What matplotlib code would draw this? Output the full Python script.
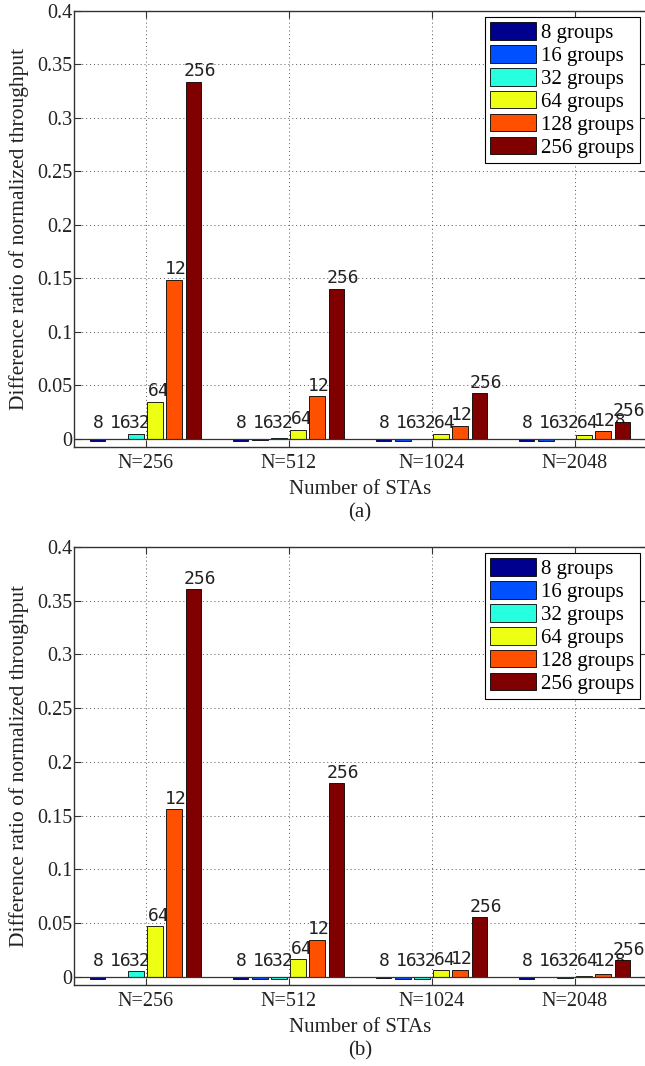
import matplotlib
matplotlib.use("Agg")
import matplotlib.pyplot as plt
from matplotlib.ticker import FixedLocator, FuncFormatter
import numpy as np

# ---- data ----
GROUPS = ["N=256", "N=512", "N=1024", "N=2048"]
SERIES = ["8 groups", "16 groups", "32 groups", "64 groups", "128 groups", "256 groups"]
TAGS = ["8", "16", "32", "64", "128", "256"]

# panel (a)
A_8 = [-0.0015, -0.0015, -0.0015, -0.0018]
A_16 = [-0.0003, -0.0005, -0.0015, -0.0018]
A_32 = [0.0050, 0.0005, 0.0003, 0.0002]
A_64 = [0.0350, 0.0084, 0.0044, 0.0035]
A_128 = [0.1490, 0.0400, 0.0125, 0.0072]
A_256 = [0.3340, 0.1406, 0.0427, 0.0162]

# panel (b)
B_8 = [-0.0015, -0.0020, -0.0010, -0.0015]
B_16 = [-0.0003, -0.0022, -0.0015, 0.0]
B_32 = [0.0053, -0.0020, -0.0022, -0.0008]
B_64 = [0.0473, 0.0165, 0.0062, 0.0010]
B_128 = [0.1560, 0.0348, 0.0068, 0.0025]
B_256 = [0.3607, 0.1800, 0.0553, 0.0155]

YTICKS = [0, 0.05, 0.1, 0.15, 0.2, 0.25, 0.3, 0.35, 0.4]

# jet-like colours, one per series
COLORS = [(0, 0, 0.5625), (0, 0.3125, 1), (0.15, 1, 0.88),
          (0.93, 1, 0.07), (1, 0.3125, 0), (0.5, 0, 0)]

SERIF = "Liberation Serif"
MONO = "DejaVu Sans Mono"
AX_COLOR = "#333333"
TXT = "#222222"
LABEL_FLOOR = 0.005

W, H = 645, 1066


def draw_panel(ax, series, caption):
    n = len(series)
    xs = np.arange(1, len(GROUPS) + 1)
    step = 0.8 / n
    for i, vals in enumerate(series):
        pos = xs + (i - (n - 1) / 2) * step
        ax.bar(pos, vals, width=step * 0.8, color=COLORS[i], edgecolor="black",
               linewidth=0.6, label=SERIES[i], zorder=3)
        dx = 0.7 + 2.2 * (len(TAGS[i]) - 1)
        for x, v in zip(pos, vals):
            ax.annotate(TAGS[i], (x, max(v, LABEL_FLOOR)), xytext=(dx, 4),
                        textcoords="offset points", ha="center", va="baseline",
                        family=MONO, fontsize=13, color=TXT, zorder=2)

    ax.axhline(0, color=AX_COLOR, linewidth=0.9, zorder=4)
    ax.set_xlim(0.5, 4.5)
    ax.set_ylim(-0.0075, 0.4)
    ax.set_xticks(xs)
    ax.set_xticklabels(GROUPS, family=SERIF, fontsize=14.5)
    ax.yaxis.set_major_locator(FixedLocator(YTICKS))
    ax.yaxis.set_major_formatter(FuncFormatter(lambda v, p: "%g" % v))
    for lab in ax.get_yticklabels():
        lab.set_family(SERIF)
        lab.set_fontsize(14.5)
    ax.tick_params(direction="in", length=5, width=0.8, top=True, right=True,
                   colors=AX_COLOR, labelcolor=TXT)
    ax.tick_params(axis="y", pad=1)
    ax.tick_params(axis="x", pad=5)
    for sp in ax.spines.values():
        sp.set_color(AX_COLOR)
        sp.set_linewidth(1.0)
    ax.set_axisbelow(True)
    ax.grid(True, color="#555555", linestyle=(0, (1, 3)), linewidth=0.7)

    ax.set_ylabel("Difference ratio of normalized throughput", family=SERIF,
                  fontsize=15.5, color=TXT)
    ax.yaxis.set_label_coords(-0.078, 0.5)
    ax.set_xlabel("Number of STAs", family=SERIF, fontsize=15, color=TXT)
    ax.xaxis.label.set_va("center")
    ax.xaxis.set_label_coords(0.5, -43 / ax.bbox.height)
    ax.text(0.5, -66 / ax.bbox.height, caption, transform=ax.transAxes,
            ha="center", va="center", family=SERIF, fontsize=15, color=TXT)

    leg = ax.legend(loc="upper right", prop={"family": SERIF, "size": 15},
                    fancybox=False, edgecolor="black", framealpha=1,
                    handlelength=2.2, handleheight=0.9, handletextpad=0.25,
                    labelspacing=0.1, borderpad=0.25, borderaxespad=0.3)
    leg.get_frame().set_linewidth(0.8)


fig = plt.figure(figsize=(W / 100, H / 100), dpi=100)
fig.patch.set_facecolor("white")

ax_a = fig.add_axes([74 / W, 1 - 447 / H, 572 / W, 436 / H])
ax_b = fig.add_axes([74 / W, 1 - 985 / H, 572 / W, 438 / H])

draw_panel(ax_a, [A_8, A_16, A_32, A_64, A_128, A_256], "(a)")
draw_panel(ax_b, [B_8, B_16, B_32, B_64, B_128, B_256], "(b)")

fig.savefig("out.png", dpi=100)
